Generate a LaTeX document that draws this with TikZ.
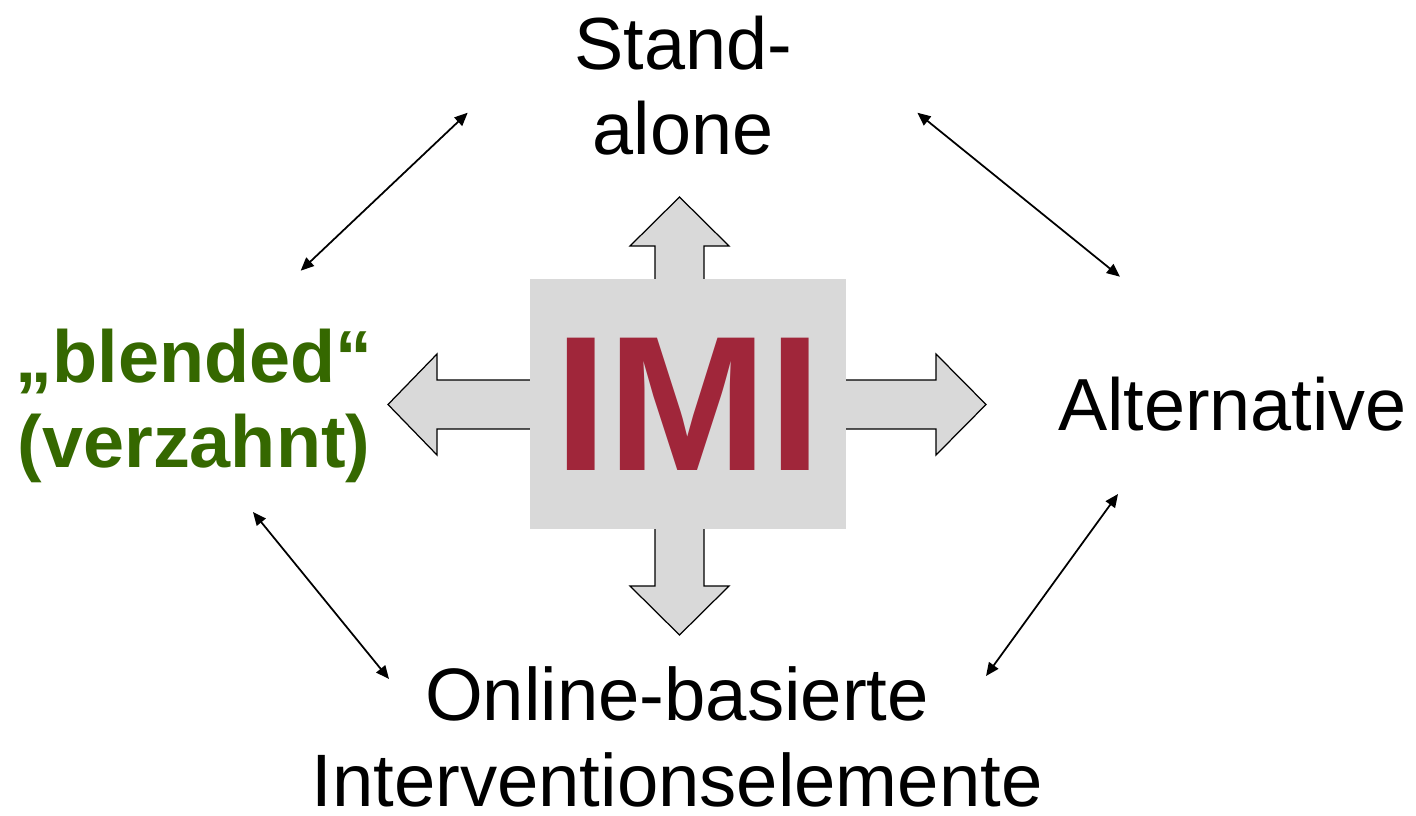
\documentclass[tikz,border=0pt]{standalone}
\usepackage{fontspec}
\setmainfont{Liberation Sans}
\usetikzlibrary{arrows.meta}
\definecolor{boxgray}{RGB}{217,217,217}
\definecolor{imired}{RGB}{160,38,58}
\definecolor{blendgreen}{RGB}{53,104,0}
\begin{document}
\begin{tikzpicture}[x=0.02cm,y=-0.02cm,
  lbl/.style={font=\fontsize{42}{48.4}\selectfont, align=center, inner sep=0pt},
  blockarrow/.style={fill=boxgray, draw=black, line width=0.7pt, line join=miter},
  link/.style={line width=1pt, {Triangle[length=7.5pt,width=6.5pt]}-{Triangle[length=7.5pt,width=6.5pt]}}]
\useasboundingbox (0,0) rectangle (1416,815);
% block arrows
\draw[blockarrow] (655,300) -- (655,246) -- (630,246) -- (679.5,197) -- (729,246) -- (704,246) -- (704,300);
\draw[blockarrow] (550,380) -- (437,380) -- (437,354) -- (388,404.5) -- (437,455) -- (437,429) -- (550,429);
\draw[blockarrow] (820,380) -- (936,380) -- (936,354) -- (986,404.5) -- (936,455) -- (936,429) -- (820,429);
\draw[blockarrow] (655,500) -- (655,586) -- (630,586) -- (679.5,635) -- (729,586) -- (704,586) -- (704,500);
% central box
\node[fill=boxgray, minimum width=180.3pt, minimum height=142.3pt, inner sep=0pt, text=imired,
      font=\fontsize{109.5}{110}\selectfont\bfseries] (imi) at (688,404) {IMI};
% labels
\node[lbl] (stand) at (683,85.5) {Stand-\\alone};
\node[lbl, anchor=base] (alt) at (1232.5,430.7) {Alternative};
\node[lbl, font=\fontsize{42.3}{48.6}\selectfont] (online) at (677,737) {Online-basierte\\Interventionselemente};
\node[lbl, text=blendgreen, font=\fontsize{42}{48.8}\selectfont\bfseries] (blend) at (194,406) {„blended“\\(verzahnt)};
% connectors
\coordinate (a1) at (300.7,270.7); \coordinate (a2) at (467.7,112.7);
\coordinate (b1) at (917.3,112.7); \coordinate (b2) at (1120,276.7);
\coordinate (c1) at (253,512);     \coordinate (c2) at (389,679);
\coordinate (d1) at (1118,494);    \coordinate (d2) at (986,676);
\draw[link] (a1) -- (a2);
\draw[link] (b1) -- (b2);
\draw[link] (c1) -- (c2);
\draw[link] (d1) -- (d2);
\end{tikzpicture}
\end{document}
